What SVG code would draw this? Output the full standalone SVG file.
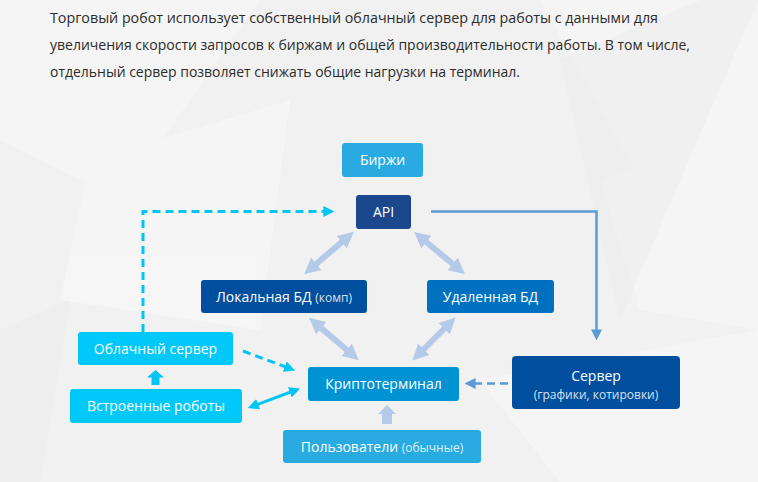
<svg xmlns="http://www.w3.org/2000/svg" width="758" height="482" viewBox="0 0 758 482">
<defs>
<style>
.hdr{font-family:"Open Sans","Noto Sans",sans-serif;font-size:14px;fill:#2b2b2b}
.lbl{font-family:"Open Sans","Noto Sans",sans-serif;font-size:14px;fill:#ffffff;text-anchor:middle}
.sm{font-size:12px;fill-opacity:0.85}
.fat{stroke:#b5cae8;stroke-width:6;fill:none}
.cy{stroke:#00c5f5;stroke-width:3;fill:none}
.dash{stroke-dasharray:8 5}
.srv{stroke:#5b9bd5;stroke-width:2.5;fill:none}
</style>
<marker id="mFat" viewBox="0 0 10 10" refX="6" refY="5" markerWidth="16" markerHeight="16" markerUnits="userSpaceOnUse" orient="auto-start-reverse"><path d="M0,0 L10,5 L0,10 Z" fill="#b5cae8"/></marker>
<marker id="mCy" viewBox="0 0 10 10" refX="6" refY="5" markerWidth="11" markerHeight="11" markerUnits="userSpaceOnUse" orient="auto-start-reverse"><path d="M0,0 L10,5 L0,10 Z" fill="#00c5f5"/></marker>
<marker id="mSrv" viewBox="0 0 10 10" refX="6" refY="5" markerWidth="11" markerHeight="11" markerUnits="userSpaceOnUse" orient="auto-start-reverse"><path d="M0,0 L10,5 L0,10 Z" fill="#5b9bd5"/></marker>
</defs>
<rect width="758" height="482" fill="#f1f1f1"/>
<g fill="#ffffff" opacity="0.35">
<polygon points="0,0 260,0 120,200 0,140"/>
<polygon points="90,160 290,100 260,330 60,300"/>
<polygon points="540,0 758,0 758,120 640,180"/>
<polygon points="600,180 758,120 758,330 640,310"/>
<polygon points="480,380 758,330 758,482 560,482"/>
</g>
<g fill="#e9e9e9" opacity="0.35">
<polygon points="560,60 700,0 758,0 620,320"/>
<polygon points="0,330 70,300 40,482 0,482"/>
</g>
<g id="header">
<text class="hdr" x="50" y="23" textLength="608" lengthAdjust="spacingAndGlyphs">Торговый робот использует собственный облачный сервер для работы с данными для</text>
<text class="hdr" x="50" y="50" textLength="640" lengthAdjust="spacingAndGlyphs">увеличения скорости запросов к биржам и общей производительности работы. В том числе,</text>
<text class="hdr" x="50" y="77" textLength="470" lengthAdjust="spacingAndGlyphs">отдельный сервер позволяет снижать общие нагрузки на терминал.</text>
</g>
<g id="connectors">
<line class="fat" x1="349" y1="236" x2="309" y2="270" marker-start="url(#mFat)" marker-end="url(#mFat)"/>
<line class="fat" x1="419" y1="236" x2="460" y2="270" marker-start="url(#mFat)" marker-end="url(#mFat)"/>
<line class="fat" x1="314" y1="322" x2="354" y2="356" marker-start="url(#mFat)" marker-end="url(#mFat)"/>
<line class="fat" x1="451" y1="322" x2="417" y2="356" marker-start="url(#mFat)" marker-end="url(#mFat)"/>
<path class="cy dash" d="M143,332 V211.5 H330" marker-end="url(#mCy)"/>
<path class="srv" d="M431,211.5 H596.5 V336" marker-end="url(#mSrv)"/>
<line class="cy dash" x1="243" y1="351" x2="291" y2="369" marker-end="url(#mCy)"/>
<line class="cy" x1="252" y1="406.5" x2="296" y2="390" marker-start="url(#mCy)" marker-end="url(#mCy)"/>
<line class="srv dash" x1="508" y1="383.5" x2="469" y2="383.5" marker-end="url(#mSrv)"/>
<polygon points="155.5,370 164,377.5 159.5,377.5 159.5,385 151.5,385 151.5,377.5 147,377.5" fill="#00c5f5"/>
<polygon points="387,405 396,414 392,414 392,424 382,424 382,414 378,414" fill="#b5cae8"/>
</g>
<g id="birzhi">
<rect x="342" y="143" width="81" height="34" rx="3" fill="#29abe2"/>
<text class="lbl" x="382.5" y="165">Биржи</text>
</g>
<g id="api">
<rect x="356" y="195" width="55" height="34" rx="3" fill="#1b478c"/>
<text class="lbl" x="383.5" y="217">API</text>
</g>
<g id="local-db">
<rect x="201" y="280" width="166" height="33" rx="3" fill="#004f9e"/>
<text class="lbl" x="284" y="301.5">Локальная БД <tspan class="sm">(комп)</tspan></text>
</g>
<g id="remote-db">
<rect x="427" y="280" width="127" height="33" rx="3" fill="#0071c0"/>
<text class="lbl" x="490.5" y="301.5">Удаленная БД</text>
</g>
<g id="cloud">
<rect x="78" y="332" width="155" height="33" rx="3" fill="#00c8f8"/>
<text class="lbl" x="155.5" y="353.5">Облачный сервер</text>
</g>
<g id="robots">
<rect x="70" y="389" width="172" height="34" rx="3" fill="#00c8f8"/>
<text class="lbl" x="156" y="411">Встроенные роботы</text>
</g>
<g id="terminal">
<rect x="308" y="367" width="151" height="34" rx="3" fill="#0093d4"/>
<text class="lbl" x="383.5" y="389">Криптотерминал</text>
</g>
<g id="server">
<rect x="512" y="356" width="168" height="53" rx="4" fill="#004f9e"/>
<text class="lbl" x="596" y="381">Сервер</text>
<text class="lbl sm" x="596" y="399">(графики, котировки)</text>
</g>
<g id="users">
<rect x="283" y="430" width="198" height="33" rx="3" fill="#29abe2"/>
<text class="lbl" x="382" y="452">Пользователи <tspan class="sm">(обычные)</tspan></text>
</g>
</svg>
